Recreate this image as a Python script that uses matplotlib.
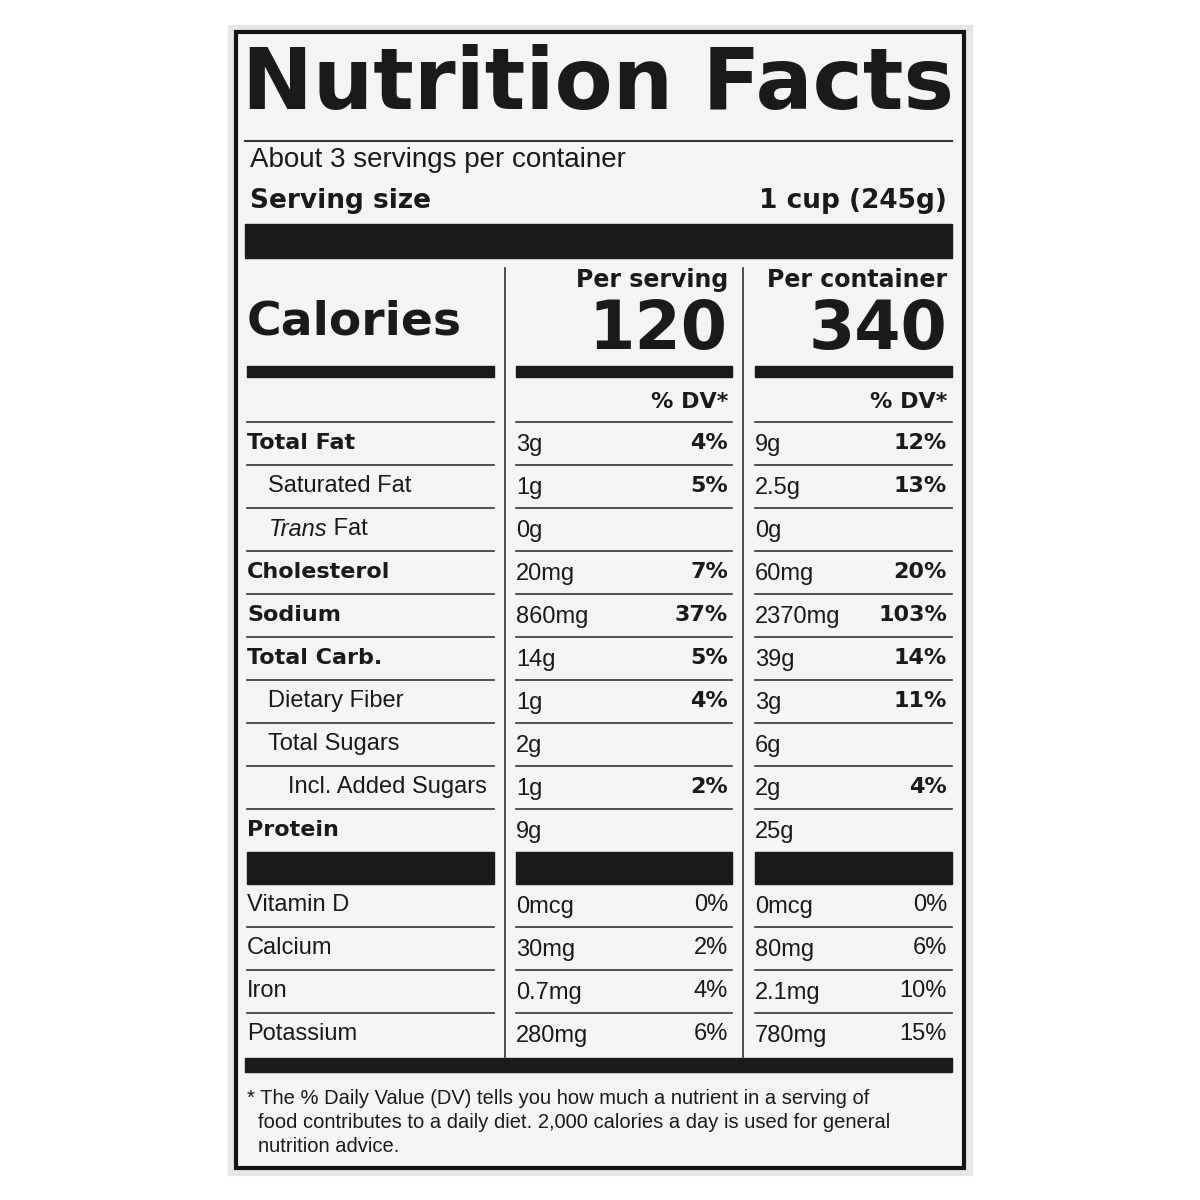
import matplotlib.pyplot as plt
from matplotlib.patches import Rectangle

plt.rcParams['font.family'] = ['Liberation Sans', 'DejaVu Sans']

nutrients = ["Total Fat", "Saturated Fat", "Trans Fat", "Cholesterol", "Sodium",
             "Total Carb.", "Dietary Fiber", "Total Sugars", "Incl. Added Sugars", "Protein"]
indent = [0, 1, 1, 0, 0, 0, 1, 1, 2, 0]
bold = [True, False, False, True, True, True, False, False, False, True]
serv_amt = ["3g", "1g", "0g", "20mg", "860mg", "14g", "1g", "2g", "1g", "9g"]
serv_dv = ["4%", "5%", "", "7%", "37%", "5%", "4%", "", "2%", ""]
cont_amt = ["9g", "2.5g", "0g", "60mg", "2370mg", "39g", "3g", "6g", "2g", "25g"]
cont_dv = ["12%", "13%", "", "20%", "103%", "14%", "11%", "", "4%", ""]

vitamins = ["Vitamin D", "Calcium", "Iron", "Potassium"]
vit_serv_amt = ["0mcg", "30mg", "0.7mg", "280mg"]
vit_serv_dv = ["0%", "2%", "4%", "6%"]
vit_cont_amt = ["0mcg", "80mg", "2.1mg", "780mg"]
vit_cont_dv = ["0%", "6%", "10%", "15%"]

fig = plt.figure(figsize=(12, 12), dpi=100)
ax = fig.add_axes([0, 0, 1, 1])
ax.set_xlim(0, 1200)
ax.set_ylim(1200, 0)
ax.axis('off')

ax.add_patch(Rectangle((228, 25), 744, 1150, color='#e6e6e6'))
ax.add_patch(Rectangle((236, 32), 728, 1136, facecolor='#f4f4f4', edgecolor='#111', lw=3))

def bar(x0, x1, y0, y1):
    ax.add_patch(Rectangle((x0, y0), x1 - x0, y1 - y0, color='#1a1a1a'))

def hline(x0, x1, y, lw=1.2):
    ax.plot([x0, x1], [y, y], color='#333', lw=lw)

T = '#1a1a1a'
WIDE = ['DejaVu Sans']
ax.text(598, 85, "Nutrition Facts", fontsize=61, weight='bold', ha='center', va='center',
        color=T, family=WIDE)
hline(245, 952, 141, 1.5)
ax.text(250, 160, "About 3 servings per container", fontsize=20, va='center', color=T)
ax.text(250, 201, "Serving size", fontsize=19, weight='bold', va='center', color=T, family=WIDE)
ax.text(947, 201, "1 cup (245g)", fontsize=19, weight='bold', va='center', ha='right', color=T, family=WIDE)
bar(245, 952, 224, 258)

ax.plot([505, 505], [268, 1058], color='#333', lw=1.2)
ax.plot([743, 743], [268, 1058], color='#333', lw=1.2)

ax.text(247, 322, "Calories", fontsize=34, weight='bold', va='center', color=T, family=WIDE)
ax.text(728, 280, "Per serving", fontsize=17, weight='bold', va='center', ha='right', color=T, family=WIDE)
ax.text(947, 280, "Per container", fontsize=17, weight='bold', va='center', ha='right', color=T, family=WIDE)
ax.text(728, 330, "120", fontsize=48, weight='bold', va='center', ha='right', color=T, family=WIDE)
ax.text(947, 330, "340", fontsize=48, weight='bold', va='center', ha='right', color=T, family=WIDE)

cols = [(247, 494), (516, 732), (755, 952)]
for x0, x1 in cols:
    bar(x0, x1, 366, 377)
    bar(x0, x1, 852, 884)
ax.text(728, 402, "% DV*", fontsize=16, weight='bold', va='center', ha='right', color=T, family=WIDE)
ax.text(947, 402, "% DV*", fontsize=16, weight='bold', va='center', ha='right', color=T, family=WIDE)

def row(y, name, ind, b, sa, sd, ca, cd, dvbold, line=True):
    if name == "Trans Fat":
        ax.text(247 + 22, y, "Trans", fontsize=17, style='italic', va='center', color=T)
        ax.text(247 + 22 + 58, y, " Fat", fontsize=17, va='center', color=T)
    elif b:
        ax.text(247, y, name, fontsize=16, weight='bold', va='center', color=T, family=WIDE)
    else:
        ax.text(247 + 20 * ind + (1 if ind else 0), y, name, fontsize=17, va='center', color=T)
    ax.text(516, y + 2, sa, fontsize=17, va='center', color=T)
    if dvbold:
        ax.text(728, y, sd, fontsize=16, weight='bold', va='center', ha='right', color=T, family=WIDE)
        ax.text(947, y, cd, fontsize=16, weight='bold', va='center', ha='right', color=T, family=WIDE)
    else:
        ax.text(728, y, sd, fontsize=17, va='center', ha='right', color=T)
        ax.text(947, y, cd, fontsize=17, va='center', ha='right', color=T)
    ax.text(755, y + 2, ca, fontsize=17, va='center', color=T)
    if line:
        for x0, x1 in cols:
            hline(x0, x1, y - 21)

for i, n in enumerate(nutrients):
    row(443 + 43 * i, n, indent[i], bold[i], serv_amt[i], serv_dv[i],
        cont_amt[i], cont_dv[i], True)
for i, n in enumerate(vitamins):
    row(905 + 43 * i, n, 0, False, vit_serv_amt[i], vit_serv_dv[i],
        vit_cont_amt[i], vit_cont_dv[i], False, line=i > 0)

bar(245, 952, 1058, 1072)
foot = ["* The % Daily Value (DV) tells you how much a nutrient in a serving of",
        "food contributes to a daily diet. 2,000 calories a day is used for general",
        "nutrition advice."]
for i, s in enumerate(foot):
    ax.text(247 if i == 0 else 258, 1098 + 24 * i, s, fontsize=14.5, va='center', color=T)

fig.savefig("out.png", dpi=100)
